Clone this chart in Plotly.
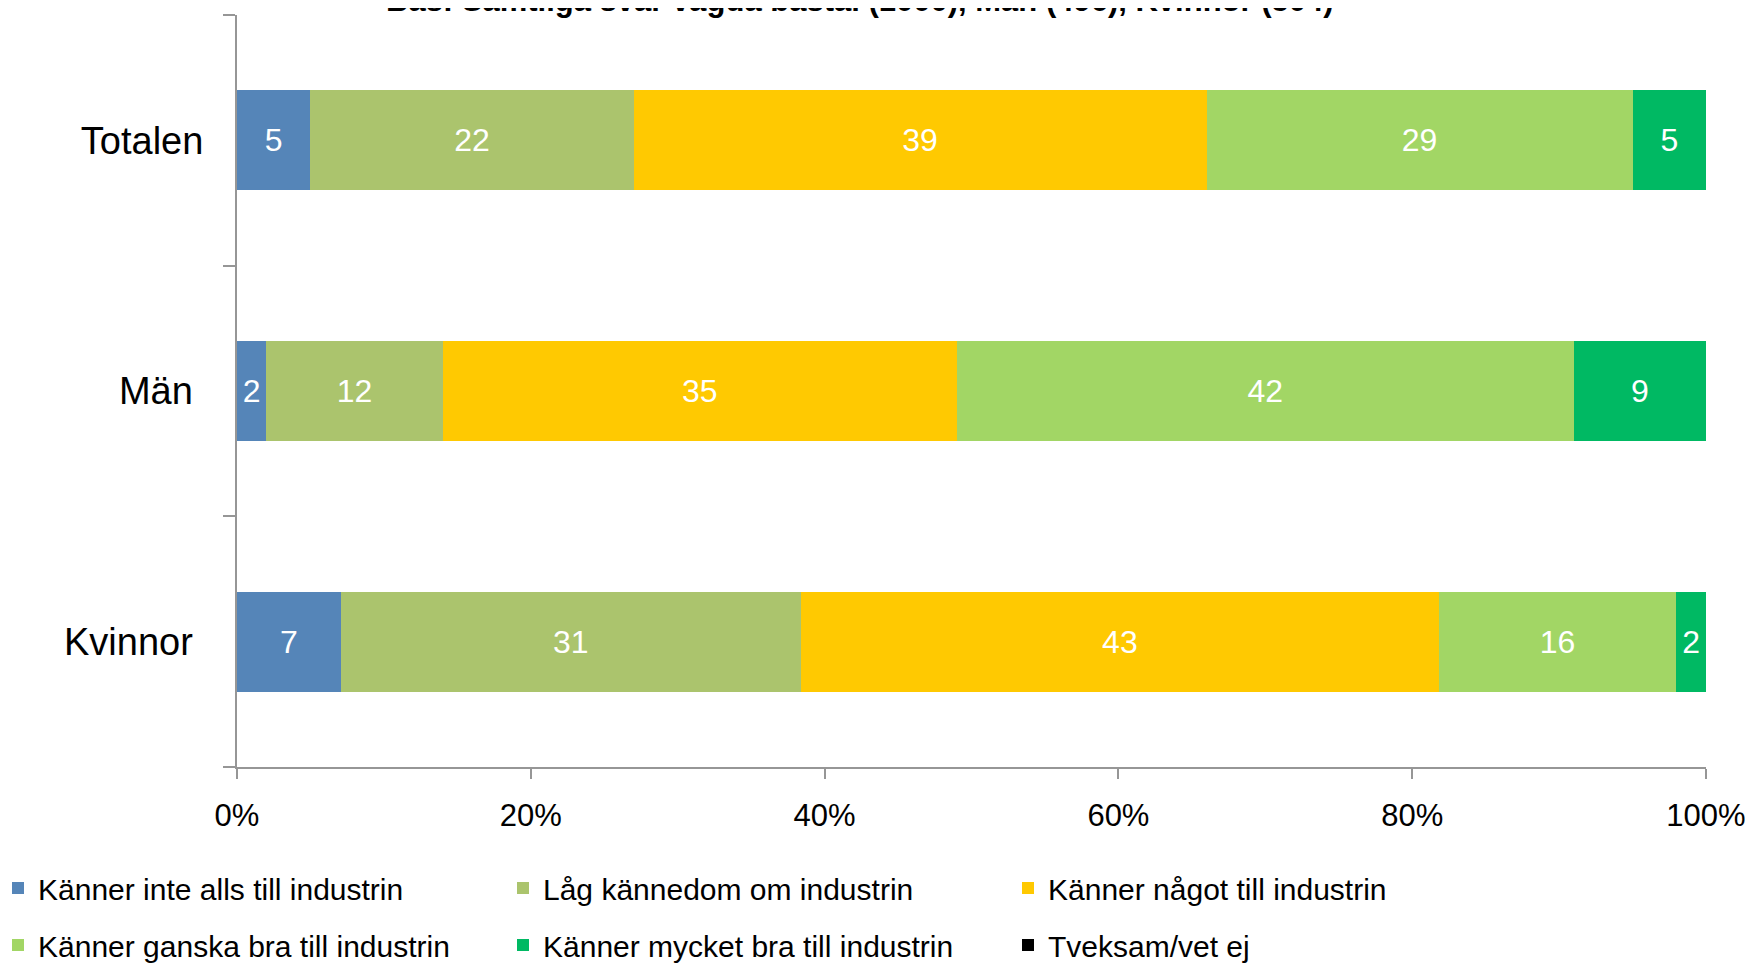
import plotly.graph_objects as go

categories = ["Totalen", "Män", "Kvinnor"]
category_labels = ["Totalen", "Män\u00a0", "Kvinnor\u00a0"]
series_names = [
    "Känner inte alls till industrin",
    "Låg kännedom om industrin",
    "Känner något till industrin",
    "Känner ganska bra till industrin",
    "Känner mycket bra till industrin",
    "Tveksam/vet ej",
]
inte_alls = [5, 2, 7]
lag_kannedom = [22, 12, 31]
nagot = [39, 35, 43]
ganska_bra = [29, 42, 16]
mycket_bra = [5, 9, 2]
tveksam = [0, 0, 0]
x_ticks = [0, 20, 40, 60, 80, 100]
x_tick_labels = ["0%", "20%", "40%", "60%", "80%", "100%"]
title_text = "Bas: Samtliga svar vägda bastal (1000), Män (496), Kvinnor (504)"

colors = ["#5585B8", "#ABC46D", "#FFC901", "#A2D665", "#00B963", "#000000"]
values = [inte_alls, lag_kannedom, nagot, ganska_bra, mycket_bra, tveksam]
legend_ids = ["legend", "legend2", "legend3", "legend", "legend2", "legend3"]
FONT = "Liberation Sans, Arial, sans-serif"

fig = go.Figure()
for i, (name, vals, col) in enumerate(zip(series_names, values, colors)):
    fig.add_trace(go.Bar(
        y=categories, x=vals, name=name, orientation="h",
        marker=dict(color=col, line=dict(width=0)),
        text=[str(v) if v else "" for v in vals],
        textposition="inside", insidetextanchor="middle",
        textfont=dict(color="white", size=32, family=FONT),
        legend=legend_ids[i], legendgroup="g%d" % i,
        hoverinfo="skip",
    ))

L, R, T, B = 229, 55, 7, 204
plot_w = 1753 - L - R
axis_col = "#969696"
leg_common = dict(orientation="v", xref="paper", yref="container",
                  xanchor="left", yanchor="top", tracegroupgap=15,
                  font=dict(size=30, family=FONT, color="black"),
                  traceorder="grouped", bgcolor="rgba(0,0,0,0)")
leg_top = 1 - 854 / 963

fig.update_layout(
    width=1753, height=963,
    barmode="stack", barnorm="percent", bargap=0.6,
    plot_bgcolor="white", paper_bgcolor="white",
    margin=dict(l=L, r=R, t=T, b=B, autoexpand=False),
    font=dict(family=FONT, color="black"),
    xaxis=dict(range=[0, 100], tickvals=x_ticks, ticktext=x_tick_labels, showgrid=False,
               showline=True, linecolor=axis_col, linewidth=2, ticks="outside",
               ticklen=10, tickwidth=2, tickcolor=axis_col, zeroline=False,
               ticklabelstandoff=10, automargin=False,
               tickfont=dict(size=31, family=FONT, color="black")),
    yaxis=dict(autorange="reversed", showline=True, linecolor=axis_col, linewidth=2,
               ticks="outside", tickson="boundaries", ticklen=12, tickwidth=2,
               tickcolor=axis_col, showgrid=False, automargin=False,
               tickmode="array", tickvals=categories, ticktext=category_labels,
               ticklabelstandoff=24,
               tickfont=dict(size=38, family=FONT, color="black")),
    legend=dict(x=(-10 - L) / plot_w, y=leg_top, **leg_common),
    legend2=dict(x=(495 - L) / plot_w, y=leg_top, **leg_common),
    legend3=dict(x=(1000 - L) / plot_w, y=leg_top, **leg_common),
    showlegend=True,
    annotations=[dict(text="<b>" + title_text + "</b>", xref="paper", yref="paper",
                      x=0.424, y=1, xanchor="center", yanchor="bottom", yshift=-5,
                      showarrow=False, font=dict(size=31, family=FONT, color="black"))],
)

fig.write_html("out.html")
